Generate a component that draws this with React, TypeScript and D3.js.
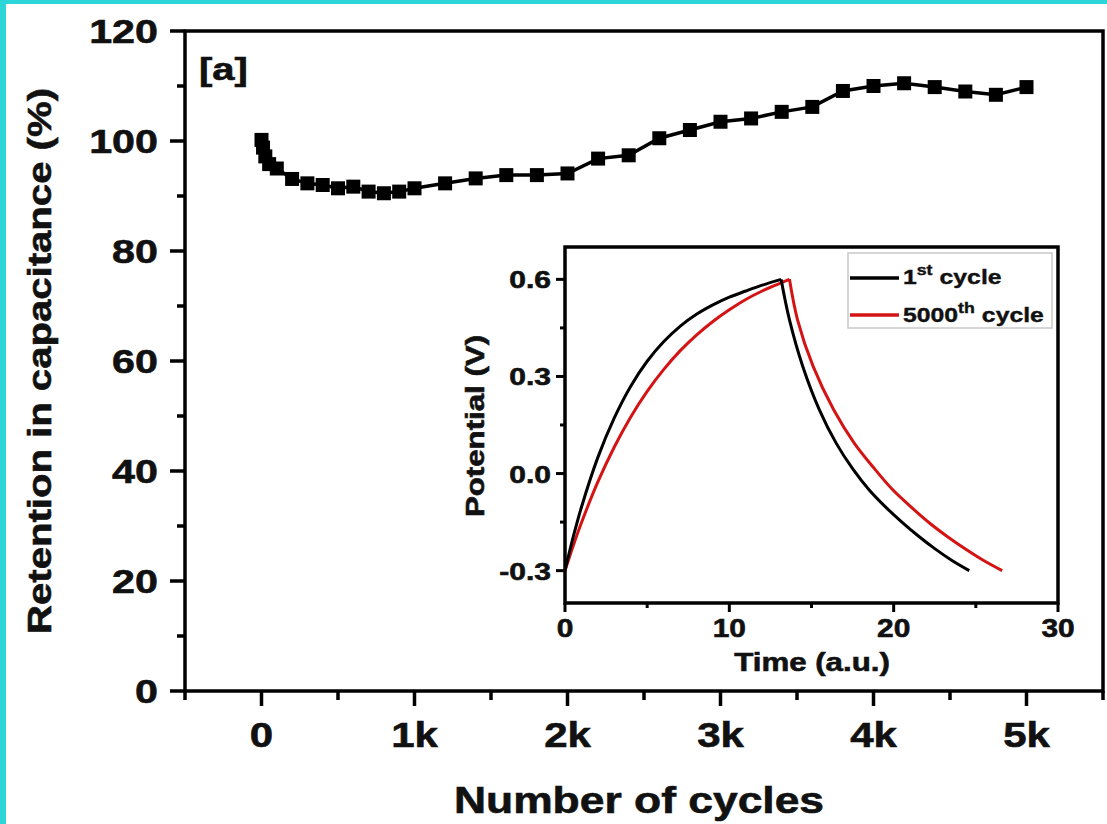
import React from 'react';
import * as d3 from 'd3';

// main plot: capacitance retention vs cycles
const cycles = [0, 10, 25, 50, 100, 200, 300, 400, 500, 600, 700, 800, 900, 1000,
  1200, 1400, 1600, 1800, 2000, 2200, 2400, 2600, 2800, 3000, 3200, 3400, 3600,
  3800, 4000, 4200, 4400, 4600, 4800, 5000];
const retention = [100.2, 98.8, 97.2, 95.8, 95.0, 93.1, 92.3, 92.0, 91.4, 91.7, 90.8, 90.5, 90.8, 91.4,
  92.3, 93.2, 93.8, 93.8, 94.1, 96.8, 97.4, 100.5, 102.0, 103.5, 104.1, 105.3, 106.2,
  109.1, 110.0, 110.5, 109.8, 109.0, 108.4, 109.8];

const xMajor = [0, 1000, 2000, 3000, 4000, 5000];
const xMajorLabels = ['0', '1k', '2k', '3k', '4k', '5k'];
const xMinor = [-500, 500, 1500, 2500, 3500, 4500, 5500];
const yMajor = [0, 20, 40, 60, 80, 100, 120];
const yMinor = [10, 30, 50, 70, 90, 110];

// inset: charge / discharge curves
const charge1T = [0, 0.5, 1, 2, 3, 4, 5, 6, 7, 8, 9, 10, 11, 12, 13.15];
const charge1V = [-0.3, -0.196, -0.104, 0.05, 0.172, 0.27, 0.347, 0.407, 0.455, 0.492, 0.521, 0.545, 0.564, 0.582, 0.6];
const discharge1T = [13.15, 13.66, 14.47, 15.48, 16.5, 17.5, 18.5, 19.5, 20.5, 21.5, 22.5, 23.5, 24.6];
const discharge1V = [0.6, 0.475, 0.331, 0.197, 0.094, 0.015, -0.05, -0.103, -0.15, -0.193, -0.232, -0.267, -0.3];

const charge2T = [0, 0.5, 1, 2, 3, 4, 5, 6, 7, 8, 9, 10, 11, 12, 13, 13.66];
const charge2V = [-0.3, -0.223, -0.152, -0.026, 0.082, 0.175, 0.254, 0.321, 0.379, 0.428, 0.47, 0.506, 0.538, 0.564, 0.586, 0.6];
const discharge2T = [13.66, 14.15, 15.1, 16.35, 17.6, 18.75, 19.9, 21.05, 22.16, 23.3, 24.39, 25.45, 26.6];
const discharge2V = [0.6, 0.475, 0.331, 0.197, 0.094, 0.02, -0.048, -0.103, -0.152, -0.196, -0.234, -0.268, -0.3];

const insetXMajor = [0, 10, 20, 30];
const insetXMinor = [5, 15, 25];
const insetYMajor = [-0.3, 0, 0.3, 0.6];
const insetYLabels = ['-0.3', '0.0', '0.3', '0.6'];
const insetYMinor = [-0.15, 0.15, 0.45];

const FONT = "'Liberation Sans', Arial, Helvetica, sans-serif";
const RED = '#d41414';
const INK = '#111';

const Label = ({ x, y, size, anchor = 'middle', stretch = 1.2, rotate = false, children }: any) => (
  <text
    transform={`translate(${x},${y})${rotate ? ' rotate(-90)' : ''} scale(${stretch},1)`}
    fontSize={size}
    fontFamily={FONT}
    fontWeight="bold"
    textAnchor={anchor}
    fill={INK}
    stroke={INK}
    strokeWidth={0.6}
  >
    {children}
  </text>
);

const App = () => {
  const width = 1107;
  const height = 824;

  const x = d3.scaleLinear().domain([-500, 5500]).range([185, 1103]);
  const y = d3.scaleLinear().domain([0, 120]).range([691, 31]);

  const ix = d3.scaleLinear().domain([0, 30]).range([565, 1058]);
  const iy = d3.scaleLinear().domain([-0.4, 0.7]).range([603, 247]);

  const mainLine = d3.line<number>()
    .x((_, i) => x(cycles[i]))
    .y(d => y(d))(retention);

  const seg = (ts: number[], vs: number[]) =>
    d3.line<number>()
      .x((_, i) => ix(ts[i]))
      .y(d => iy(d))
      .curve(d3.curveCatmullRom.alpha(0.5))(vs) || '';

  const black = seg(charge1T, charge1V) + seg(discharge1T, discharge1V);
  const red = seg(charge2T, charge2V) + seg(discharge2T, discharge2V);

  const [x0, x1] = x.range();
  const [y0, y1] = y.range();
  const [ix0, ix1] = ix.range();
  const [iy0, iy1] = iy.range();

  const sw = 3.5;

  return (
    <svg width={width} height={height}
      style={{ position: 'absolute', left: 0, top: 0, background: '#fff' }}>
      <rect x={0} y={0} width={6} height={height} fill="#2cd6d8" />
      <rect x={0} y={0} width={width} height={4} fill="#2cd6d8" />

      {/* main frame */}
      <rect x={x0} y={y1} width={x1 - x0} height={y0 - y1} fill="none" stroke="#000" strokeWidth={sw} />
      {yMajor.map(v => (
        <line key={'ym' + v} x1={x0 - 15} x2={x0} y1={y(v)} y2={y(v)} stroke="#000" strokeWidth={sw} />
      ))}
      {yMinor.map(v => (
        <line key={'yn' + v} x1={x0 - 8} x2={x0} y1={y(v)} y2={y(v)} stroke="#000" strokeWidth={sw} />
      ))}
      {xMajor.map(v => (
        <line key={'xm' + v} x1={x(v)} x2={x(v)} y1={y0} y2={y0 + 15} stroke="#000" strokeWidth={sw} />
      ))}
      {xMinor.map(v => (
        <line key={'xn' + v} x1={x(v)} x2={x(v)} y1={y0} y2={y0 + 9} stroke="#000" strokeWidth={sw} />
      ))}
      {yMajor.map(v => (
        <Label key={'yl' + v} x={158} y={y(v) + 12} size={33} anchor="end" stretch={1.25}>{v}</Label>
      ))}
      {xMajor.map((v, i) => (
        <Label key={'xl' + v} x={x(v)} y={747} size={35} stretch={1.2}>{xMajorLabels[i]}</Label>
      ))}
      <Label x={639} y={813} size={37} stretch={1.2}>Number of cycles</Label>
      <Label x={51} y={361} size={34} rotate stretch={1.18}>Retention in capacitance (%)</Label>
      <Label x={199} y={80} size={32} anchor="start" stretch={1.25}>[a]</Label>

      {/* series */}
      <path d={mainLine || ''} fill="none" stroke="#000" strokeWidth={3.5} />
      {retention.map((v, i) => (
        <rect key={'p' + i} x={x(cycles[i]) - 7} y={y(v) - 7} width={14} height={14} fill="#000" />
      ))}

      {/* inset */}
      <rect x={ix0} y={iy1} width={ix1 - ix0} height={iy0 - iy1} fill="#fff" stroke="#000" strokeWidth={sw} />
      {insetYMajor.map(v => (
        <line key={'iym' + v} x1={ix0 - 9} x2={ix0} y1={iy(v)} y2={iy(v)} stroke="#000" strokeWidth={3} />
      ))}
      {insetYMinor.map(v => (
        <line key={'iyn' + v} x1={ix0 - 5} x2={ix0} y1={iy(v)} y2={iy(v)} stroke="#000" strokeWidth={3} />
      ))}
      {insetXMajor.map(v => (
        <line key={'ixm' + v} x1={ix(v)} x2={ix(v)} y1={iy0} y2={iy0 + 9} stroke="#000" strokeWidth={3} />
      ))}
      {insetXMinor.map(v => (
        <line key={'ixn' + v} x1={ix(v)} x2={ix(v)} y1={iy0} y2={iy0 + 5} stroke="#000" strokeWidth={3} />
      ))}
      {insetYMajor.map((v, i) => (
        <Label key={'iyl' + v} x={551} y={iy(v) + 9} size={24} anchor="end" stretch={1.25}>{insetYLabels[i]}</Label>
      ))}
      {insetXMajor.map(v => (
        <Label key={'ixl' + v} x={ix(v)} y={637} size={26} stretch={1.15}>{v}</Label>
      ))}
      <Label x={812} y={671} size={25} stretch={1.25}>Time (a.u.)</Label>
      <Label x={484} y={426} size={25} rotate stretch={1.25}>Potential (V)</Label>

      <path d={red} fill="none" stroke={RED} strokeWidth={3} />
      <path d={black} fill="none" stroke="#000" strokeWidth={3} />

      {/* legend */}
      <rect x={848} y={253} width={204} height={75} fill="#fff" stroke="#c8c8c8" strokeWidth={1.5} />
      <line x1={850} x2={899} y1={278} y2={278} stroke="#000" strokeWidth={3.5} />
      <line x1={850} x2={899} y1={315} y2={315} stroke={RED} strokeWidth={3.5} />
      <text transform="translate(903,284) scale(1.18,1)" fontSize={21} fontFamily={FONT} fontWeight="bold"
        fill={INK} stroke={INK} strokeWidth={0.4}>
        1<tspan fontSize={15} dy={-9}>st</tspan><tspan dy={9} dx={6}>cycle</tspan>
      </text>
      <text transform="translate(903,322) scale(1.18,1)" fontSize={21} fontFamily={FONT} fontWeight="bold"
        fill={INK} stroke={INK} strokeWidth={0.4}>
        5000<tspan fontSize={15} dy={-9}>th</tspan><tspan dy={9} dx={6}>cycle</tspan>
      </text>
    </svg>
  );
};

export default App;
